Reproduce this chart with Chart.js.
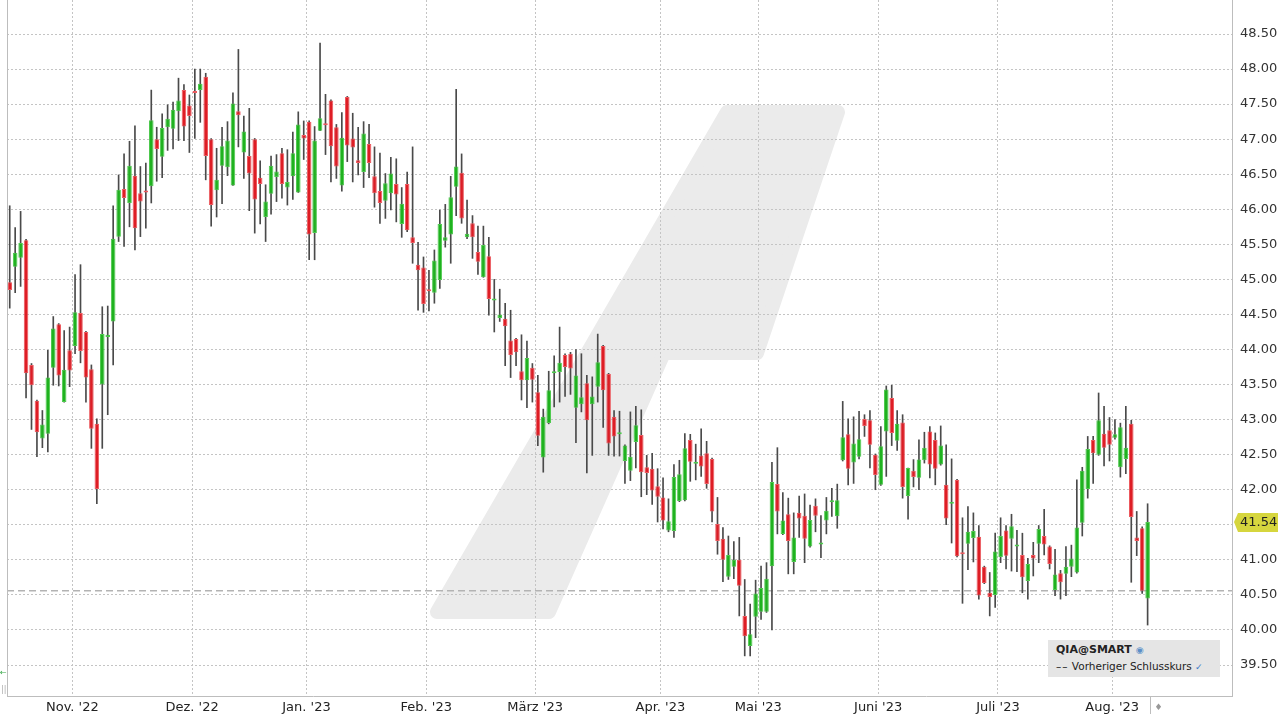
<!DOCTYPE html>
<html lang="de">
<head>
<meta charset="utf-8">
<title>QIA@SMART</title>
<script src="https://cdn.jsdelivr.net/npm/chart.js@4.4.0/dist/chart.umd.min.js"></script>
<style>
    html, body { margin: 0; padding: 0; background: #fff; }
    #wrap { position: relative; width: 1280px; height: 720px; font-family: "DejaVu Sans", Verdana, sans-serif; }
    #legendBox { position: absolute; left: 1048px; top: 640px; width: 172px; height: 37px; background: #e5e5e5; color: #222; }
    #legendBox .sym { position: absolute; left: 8px; top: 3px; font-size: 11px; font-weight: bold; }
    #legendBox .sym span { color: #5b8fc7; font-weight: normal; font-size: 9px; }
    #legendBox .row { position: absolute; left: 8px; top: 20px; font-size: 10.5px; white-space: nowrap; }
    #legendBox .row b { font-weight: normal; letter-spacing: 1px; }
    #legendBox .row span { color: #3a78c8; font-size: 9px; }
</style>
</head>
<body>
<div id="wrap">
    <canvas id="priceChart" width="1280" height="720"></canvas>
    <div id="legendBox">
        <div class="sym">QIA@SMART <span>&#9673;</span></div>
        <div class="row"><b>&#8211;&#8211;</b> Vorheriger Schlusskurs <span>&#10003;</span></div>
    </div>
</div>
<script>
// Trading days (Xetra) from 14 Oct 2022 to 9 Aug 2023
var firstDay = '2022-10-14';
var tradingDayCount = 210;
var emptySlots = 15;
var holidays = ['2022-12-26', '2023-04-07', '2023-04-10', '2023-05-01'];
var monthLabels = ["Nov. '22", "Dez. '22", "Jan. '23", "Feb. '23", "März '23", "Apr. '23", "Mai '23", "Juni '23", "Juli '23", "Aug. '23"];
var yTicks = [39.5, 40, 40.5, 41, 41.5, 42, 42.5, 43, 43.5, 44, 44.5, 45, 45.5, 46, 46.5, 47, 47.5, 48, 48.5];

var openVals = [
    44.96, 45.18, 45.31, 45.56, 43.78, 43.27, 42.73, 42.80, 43.74, 44.36,
    43.25, 43.99, 44.05, 44.52, 44.25, 43.72, 42.94, 43.50, 44.18, 44.40,
    45.61, 46.29, 46.09, 46.48, 46.23, 46.25, 46.33, 47.00, 46.75, 47.17,
    47.15, 47.40, 47.70, 47.48, 47.68, 47.70, 47.89, 47.00, 46.27, 46.62,
    46.60, 46.34, 47.40, 46.81, 46.76, 47.00, 46.45, 45.89, 46.22, 46.46,
    46.80, 46.31, 46.47, 46.24, 47.06, 47.25, 45.66, 47.12, 47.22, 47.55,
    47.17, 46.34, 47.60, 47.01, 46.70, 46.53, 46.93, 46.47, 46.26, 46.12,
    46.23, 46.36, 45.79, 46.36, 45.60, 45.21, 45.17, 44.84, 44.81, 44.99,
    45.55, 45.64, 46.32, 46.52, 45.60, 45.80, 45.39, 45.03, 45.33, 44.70,
    44.45, 44.44, 44.13, 44.15, 43.69, 43.56, 43.74, 43.39, 42.46, 42.95,
    43.66, 43.68, 43.92, 43.94, 43.17, 43.22, 43.52, 43.22, 43.47, 44.05,
    43.65, 43.04, 42.79, 42.41, 42.27, 42.68, 42.78, 42.32, 42.30, 42.05,
    41.89, 41.42, 41.41, 41.84, 41.85, 42.71, 42.37, 42.49, 42.52, 42.44,
    41.51, 41.30, 40.76, 40.90, 41.00, 40.20, 39.77, 40.19, 40.26, 40.26,
    40.91, 42.08, 41.37, 41.65, 40.97, 41.67, 41.63, 41.19, 41.77, 41.22,
    41.56, 41.82, 41.62, 42.42, 42.79, 42.39, 42.47, 43.01, 42.99, 42.50,
    42.07, 42.83, 43.31, 42.70, 42.96, 41.91, 42.27, 42.17, 42.42, 42.83,
    42.71, 42.36, 42.07, 41.80, 42.14, 41.10, 41.23, 41.31, 41.33, 40.90,
    40.53, 40.50, 41.04, 41.42, 41.30, 41.19, 41.07, 40.70, 41.07, 41.23,
    41.34, 41.19, 40.57, 40.81, 40.80, 40.90, 40.82, 41.53, 42.01, 42.71,
    42.50, 42.80, 42.85, 42.74, 42.32, 42.44, 42.94, 41.32, 41.45, 40.45
];
var highVals = [
    46.05, 45.74, 45.97, 45.57, 43.80, 43.28, 43.13, 43.99, 44.47, 44.37,
    44.27, 44.32, 45.07, 45.21, 44.26, 43.78, 43.01, 44.61, 44.62, 46.05,
    46.49, 46.79, 46.97, 47.19, 46.61, 46.66, 47.70, 47.17, 47.36, 47.49,
    47.53, 47.87, 47.78, 47.63, 48.00, 48.00, 47.94, 47.01, 46.87, 47.17,
    47.25, 47.66, 48.28, 47.33, 47.44, 47.01, 46.69, 46.35, 46.76, 46.78,
    46.87, 46.85, 47.10, 47.39, 47.26, 47.26, 47.18, 48.37, 47.64, 47.56,
    47.21, 47.38, 47.61, 47.37, 47.17, 47.25, 47.21, 46.89, 46.80, 46.51,
    46.74, 46.72, 46.31, 46.53, 46.89, 45.53, 45.32, 45.13, 45.42, 45.99,
    46.07, 46.47, 47.71, 46.79, 46.13, 45.91, 45.76, 45.76, 45.60, 45.00,
    44.86, 44.66, 44.56, 44.16, 44.21, 44.12, 43.80, 43.63, 43.15, 43.69,
    43.91, 44.32, 43.94, 43.96, 44.00, 43.94, 43.63, 43.61, 44.22, 44.06,
    43.66, 43.13, 43.12, 42.64, 43.11, 43.19, 43.14, 42.49, 42.52, 42.30,
    42.17, 41.87, 42.36, 42.42, 42.80, 42.79, 42.65, 42.87, 42.69, 42.45,
    41.89, 41.46, 41.34, 41.26, 41.32, 40.72, 40.37, 40.71, 40.91, 40.96,
    42.39, 42.60, 41.96, 41.88, 41.67, 41.91, 41.94, 41.78, 41.87, 41.63,
    41.89, 42.02, 42.08, 43.26, 43.01, 43.04, 43.12, 43.07, 43.13, 42.51,
    42.90, 43.48, 43.49, 43.13, 43.07, 42.31, 42.43, 42.71, 42.82, 42.90,
    42.81, 42.91, 42.64, 42.44, 42.15, 41.60, 41.76, 41.67, 41.49, 40.91,
    40.82, 41.38, 41.60, 41.49, 41.65, 41.42, 41.38, 41.02, 41.25, 41.49,
    41.72, 41.20, 41.15, 40.85, 41.19, 41.21, 42.14, 42.32, 42.76, 42.76,
    43.38, 43.19, 43.03, 43.00, 42.95, 43.19, 42.99, 41.69, 41.47, 41.80
];
var lowVals = [
    44.59, 44.81, 44.90, 43.31, 42.86, 42.47, 42.60, 42.54, 43.49, 43.48,
    43.25, 43.47, 43.94, 43.81, 43.25, 42.59, 41.80, 42.59, 43.07, 43.78,
    45.54, 45.47, 45.75, 45.42, 45.61, 45.73, 46.09, 46.40, 46.45, 46.84,
    46.86, 46.98, 46.98, 46.81, 47.01, 47.24, 46.42, 45.76, 45.89, 46.08,
    46.48, 46.34, 46.89, 46.44, 45.98, 45.66, 45.79, 45.54, 45.93, 46.11,
    46.16, 46.06, 46.14, 46.24, 46.71, 45.28, 45.28, 47.12, 46.78, 46.39,
    46.44, 46.26, 46.68, 46.39, 46.49, 46.31, 46.45, 46.03, 45.80, 45.87,
    45.99, 45.82, 45.60, 45.68, 45.23, 44.56, 44.53, 44.55, 44.66, 44.87,
    45.46, 45.23, 45.91, 45.80, 45.58, 45.30, 45.07, 45.03, 44.49, 44.25,
    44.40, 43.77, 43.60, 43.77, 43.28, 43.17, 43.25, 42.63, 42.25, 42.94,
    43.18, 43.25, 43.33, 43.36, 42.67, 43.11, 42.24, 42.49, 43.25, 42.89,
    42.49, 42.48, 42.48, 42.09, 42.13, 42.31, 41.90, 41.93, 41.79, 41.54,
    41.44, 41.40, 41.32, 41.83, 41.84, 42.12, 42.14, 42.19, 42.02, 41.54,
    41.08, 40.69, 40.72, 40.73, 40.20, 39.63, 39.63, 39.89, 40.15, 40.25,
    40.00, 41.37, 41.36, 40.80, 40.80, 41.32, 40.96, 41.18, 41.40, 41.03,
    41.37, 41.62, 41.45, 42.41, 42.07, 42.09, 42.44, 42.76, 42.31, 42.00,
    42.06, 42.19, 42.63, 42.56, 41.88, 41.58, 42.04, 42.00, 42.38, 42.17,
    42.07, 42.35, 41.50, 41.24, 41.04, 40.38, 40.86, 40.97, 40.44, 40.66,
    40.20, 40.32, 40.96, 40.87, 40.84, 40.83, 40.53, 40.44, 40.77, 40.96,
    41.07, 40.87, 40.49, 40.44, 40.49, 40.76, 40.81, 41.34, 41.88, 42.09,
    42.49, 42.34, 42.41, 42.72, 42.18, 42.23, 40.68, 41.06, 40.52, 40.07
];
var closeVals = [
    44.85, 45.38, 45.52, 43.66, 43.49, 42.82, 42.93, 43.60, 44.30, 43.63,
    43.71, 43.70, 44.53, 43.98, 43.60, 42.87, 42.01, 44.22, 44.21, 45.58,
    46.28, 46.16, 46.62, 45.73, 46.11, 46.24, 47.27, 46.86, 47.16, 47.29,
    47.42, 47.55, 47.18, 47.33, 47.66, 47.79, 46.76, 46.06, 46.42, 46.90,
    46.98, 47.51, 47.34, 47.11, 46.51, 46.14, 46.36, 46.11, 46.62, 46.54,
    46.36, 46.39, 46.80, 47.21, 47.01, 45.64, 46.98, 47.30, 47.20, 46.90,
    46.61, 47.02, 46.91, 46.88, 46.66, 47.08, 46.66, 46.23, 46.09, 46.37,
    46.51, 46.21, 46.08, 45.70, 45.52, 45.13, 44.65, 44.83, 45.27, 45.79,
    45.60, 46.17, 46.61, 45.87, 45.65, 45.60, 45.25, 45.49, 44.72, 44.71,
    44.50, 44.33, 43.92, 43.96, 43.56, 43.88, 43.57, 42.77, 43.04, 43.42,
    43.67, 43.81, 43.75, 43.73, 43.63, 43.32, 42.99, 43.33, 43.82, 43.42,
    42.66, 42.76, 42.80, 42.63, 42.47, 42.92, 42.25, 42.24, 41.99, 41.90,
    41.56, 41.55, 42.18, 42.22, 42.59, 42.40, 42.39, 42.33, 42.08, 41.69,
    41.27, 41.00, 41.07, 41.00, 40.63, 39.91, 39.94, 40.52, 40.60, 40.73,
    42.11, 41.69, 41.56, 41.27, 41.32, 41.59, 41.30, 41.57, 41.63, 41.24,
    41.70, 41.85, 41.85, 42.75, 42.30, 42.66, 42.72, 42.91, 42.64, 42.21,
    42.62, 43.43, 42.81, 42.94, 42.04, 42.31, 42.18, 42.43, 42.60, 42.36,
    42.30, 42.63, 41.59, 41.83, 41.05, 41.08, 41.40, 41.41, 40.49, 40.67,
    40.47, 41.12, 41.34, 41.06, 41.48, 41.22, 40.75, 40.94, 41.02, 41.44,
    41.22, 40.94, 40.79, 40.68, 40.90, 41.02, 41.46, 42.27, 42.58, 42.52,
    42.99, 42.60, 42.64, 42.79, 42.89, 42.60, 41.61, 41.27, 40.56, 41.54
];

var GREEN = '#1fb21f', GREEN_EDGE = '#4fc94f';
var RED = '#de1d25', RED_EDGE = '#ec5a5f';
var WICK = '#4a4a4a';
var GRID = '#c4c4c4';

// Build the list of trading days (weekdays minus exchange holidays)
function buildDays(start, count) {
    var days = [];
    var d = new Date(start + 'T00:00:00Z');
    while (days.length < count) {
        var iso = d.toISOString().slice(0, 10);
        var wd = d.getUTCDay();
        if (wd !== 0 && wd !== 6 && holidays.indexOf(iso) === -1) {
            days.push(iso);
        }
        d.setUTCDate(d.getUTCDate() + 1);
    }
    return days;
}

var dayLabels = buildDays(firstDay, tradingDayCount + emptySlots);

// index -> month label for the first trading day of each month
var monthStart = {};
var m = 0;
for (var i = 1; i < dayLabels.length; i++) {
    if (dayLabels[i].slice(5, 7) !== dayLabels[i - 1].slice(5, 7) && m < monthLabels.length) {
        monthStart[i] = monthLabels[m];
        m++;
    }
}

function isUp(i) { return closeVals[i] >= openVals[i]; }

// Background logo, previous close line, frame and last price marker
var extrasPlugin = {
    id: 'extras',
    beforeDraw: function(chart) {
        var ctx = chart.ctx;
        ctx.save();
        ctx.fillStyle = '#ebebeb';
        ctx.strokeStyle = '#ebebeb';
        ctx.lineWidth = 14;
        ctx.lineJoin = 'round';
        ctx.beginPath();
        ctx.moveTo(727, 112);
        ctx.lineTo(838, 112);
        ctx.lineTo(757, 353);
        ctx.lineTo(664, 353);
        ctx.lineTo(549, 612);
        ctx.lineTo(437, 612);
        ctx.closePath();
        ctx.fill();
        ctx.stroke();
        ctx.restore();
    },
    beforeDatasetsDraw: function(chart) {
        var ctx = chart.ctx, area = chart.chartArea;
        var y = chart.scales.y.getPixelForValue(closeVals[closeVals.length - 2]);
        ctx.save();
        ctx.strokeStyle = '#b3b3b3';
        ctx.lineWidth = 1.5;
        ctx.setLineDash([7, 4]);
        ctx.beginPath();
        ctx.moveTo(area.left, y);
        ctx.lineTo(area.right, y);
        ctx.stroke();
        ctx.restore();
    },
    afterDraw: function(chart) {
        var ctx = chart.ctx, area = chart.chartArea;
        var xs = chart.scales.x;
        ctx.save();
        // left frame line
        ctx.strokeStyle = '#bdbdbd';
        ctx.lineWidth = 1;
        ctx.beginPath();
        ctx.moveTo(area.left + 0.5, area.top);
        ctx.lineTo(area.left + 0.5, area.bottom);
        ctx.stroke();

        // marker after the last candle on the time axis
        var xe = Math.round(xs.getPixelForValue(tradingDayCount - 1) + 2) + 0.5;
        ctx.beginPath();
        ctx.moveTo(xe, area.bottom);
        ctx.lineTo(xe, area.bottom + 18);
        ctx.stroke();
        ctx.fillStyle = '#999';
        ctx.font = '9px "DejaVu Sans"';
        ctx.textBaseline = 'middle';
        ctx.fillText('\u2666', xe + 4, area.bottom + 12);

        // small icons on the left edge
        ctx.fillStyle = '#3aa84a';
        ctx.font = '8px "DejaVu Sans"';
        ctx.fillText('\u2190', 0, 673);
        ctx.fillStyle = '#aaa';
        ctx.fillText('||', 1, 690);

        // last price tag on the right axis
        var last = closeVals[closeVals.length - 1];
        var y = Math.round(chart.scales.y.getPixelForValue(last));
        ctx.fillStyle = '#d6d63e';
        ctx.beginPath();
        ctx.moveTo(area.right + 2, y);
        ctx.lineTo(area.right + 6, y - 9);
        ctx.lineTo(1278, y - 9);
        ctx.lineTo(1278, y + 10);
        ctx.lineTo(area.right + 6, y + 10);
        ctx.closePath();
        ctx.fill();
        ctx.fillStyle = '#222';
        ctx.font = '13px "DejaVu Sans"';
        ctx.textBaseline = 'middle';
        ctx.fillText(last.toFixed(2), area.right + 8, y + 1);
        ctx.restore();
    }
};

var ctx = document.getElementById('priceChart').getContext('2d');
var priceChart = new Chart(ctx, {
    type: 'bar',
    data: {
        labels: dayLabels,
        datasets: [{
            label: 'Kerze',
            data: openVals.map(function(o, i) { return [o, closeVals[i]]; }),
            backgroundColor: function(c) { return isUp(c.dataIndex) ? GREEN : RED; },
            borderColor: function(c) { return isUp(c.dataIndex) ? GREEN_EDGE : RED_EDGE; },
            borderWidth: 1,
            borderSkipped: false,
            minBarLength: 2,
            barPercentage: 0.84,
            categoryPercentage: 1,
            grouped: false,
            order: 0
        }, {
            label: 'Docht',
            data: lowVals.map(function(l, i) { return [l, highVals[i]]; }),
            backgroundColor: WICK,
            barThickness: 1,
            grouped: false,
            order: 1
        }]
    },
    options: {
        responsive: false,
        animation: false,
        events: [],
        layout: { padding: { left: 7, top: 0, right: 0, bottom: 0 } },
        plugins: {
            legend: { display: false },
            tooltip: { enabled: false },
            title: { display: false }
        },
        scales: {
            x: {
                offset: true,
                grid: {
                    offset: true,
                    drawTicks: false,
                    color: function(c) { return monthStart[c.index] ? GRID : 'rgba(0,0,0,0)'; }
                },
                border: { display: true, color: '#bdbdbd', dash: [2, 2] },
                ticks: {
                    autoSkip: false,
                    maxRotation: 0,
                    minRotation: 0,
                    padding: 4,
                    labelOffset: -2.7,
                    color: '#222',
                    font: { family: '"DejaVu Sans"', size: 13 },
                    callback: function(value, index) { return monthStart[index] || ''; }
                },
                afterFit: function(s) {
                    s.height = 24;
                    s.paddingLeft = 0;
                    s.paddingRight = 0;
                }
            },
            y: {
                position: 'right',
                min: 39.058,
                max: 48.985,
                grid: { drawTicks: false, color: GRID },
                border: { display: true, color: '#bdbdbd', dash: [2, 2] },
                ticks: {
                    padding: 8,
                    color: '#333',
                    font: { family: '"DejaVu Sans"', size: 13 },
                    callback: function(value) { return value.toFixed(2); }
                },
                afterBuildTicks: function(s) {
                    s.ticks = yTicks.map(function(v) { return { value: v }; });
                },
                afterFit: function(s) {
                    s.width = 48;
                    s.paddingTop = 0;
                    s.paddingBottom = 0;
                }
            }
        }
    },
    plugins: [extrasPlugin]
});
</script>
</body>
</html>
